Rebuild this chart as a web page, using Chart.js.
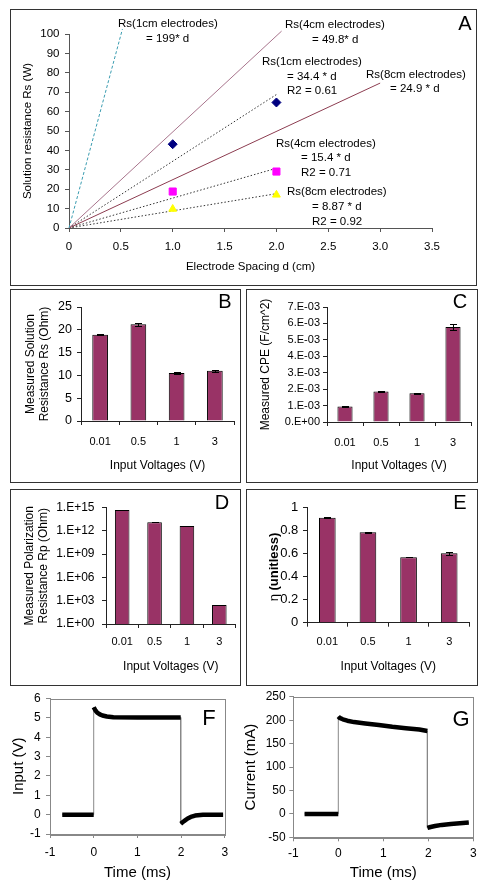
<!DOCTYPE html>
<html>
<head>
<meta charset="utf-8">
<script src="https://cdn.jsdelivr.net/npm/chart.js@4.4.0/dist/chart.umd.min.js"></script>
<style>
  html, body { margin: 0; padding: 0; background: #fff; }
  body { width: 488px; height: 892px; position: relative; overflow: hidden; }
  .box { position: absolute; border: 1px solid #333; box-sizing: border-box; }
  canvas { position: absolute; }
</style>
</head>
<body>
<div class="box" style="left:10px;top:9px;width:467px;height:277px"></div>
<div class="box" style="left:10px;top:289px;width:231px;height:194px"></div>
<div class="box" style="left:246px;top:289px;width:232px;height:194px"></div>
<div class="box" style="left:10px;top:489px;width:231px;height:197px"></div>
<div class="box" style="left:246px;top:489px;width:232px;height:197px"></div>

<canvas id="chartA" width="465" height="275" style="left:11px;top:10px"></canvas>
<canvas id="chartB" width="229" height="192" style="left:11px;top:290px"></canvas>
<canvas id="chartC" width="230" height="192" style="left:247px;top:290px"></canvas>
<canvas id="chartD" width="229" height="195" style="left:11px;top:490px"></canvas>
<canvas id="chartE" width="230" height="195" style="left:247px;top:490px"></canvas>
<canvas id="chartF" width="236" height="206" style="left:0px;top:686px"></canvas>
<canvas id="chartG" width="252" height="206" style="left:236px;top:686px"></canvas>

<script>
// ---- A: solution resistance vs electrode spacing ----
const spacing = [1, 2];
const rs1cm = [43.2, 64.7];
const rs4cm = [18.8, 29.1];
const rs8cm = [9.8, 17.1];
// fitted lines through the origin, end points
const fitEndX = [0.515, 2.05, 3.0, 2.0, 2.0, 2.0];
const fitEndY = [102.5, 101.5, 74.7, 68.8, 30.8, 17.7];
const fitNotes = [
  [0.473, 105.0, 'Rs(1cm electrodes)'], [0.743, 97.3, '= 199* d'],
  [2.083, 104.5, 'Rs(4cm electrodes)'], [2.343, 96.8, '= 49.8* d'],
  [1.861, 85.7, 'Rs(1cm electrodes)'], [2.102, 77.7, '= 34.4 * d'], [2.102, 70.5, 'R2 = 0.61'],
  [2.864, 78.8, 'Rs(8cm electrodes)'], [3.095, 71.6, '= 24.9 * d'],
  [1.996, 43.3, 'Rs(4cm electrodes)'], [2.237, 36.1, '= 15.4 * d'], [2.237, 28.4, 'R2 = 0.71'],
  [2.102, 18.7, 'Rs(8cm electrodes)'], [2.343, 10.9, '= 8.87 * d'], [2.343, 3.2, 'R2 = 0.92'],
];

// ---- B-E: measured parameters vs input voltage ----
const voltages = ['0.01', '0.5', '1', '3'];
const rsMeasured = [18.9, 21.2, 10.5, 11.0];
const rsErr = [0.1, 0.35, 0.3, 0.25];
const cpe = [0.94e-3, 1.85e-3, 1.75e-3, 5.79e-3];
const cpeErr = [0.02e-3, 0.02e-3, 0.04e-3, 0.2e-3];
const cpeTickLabels = ['0.E+00', '1.E-03', '2.E-03', '3.E-03', '4.E-03', '5.E-03', '6.E-03', '7.E-03'];
const rp = [4.9e14, 1.3e13, 4e12, 280];
const rpErr = [5e13, 1e12, 3e11, 0];
const rpTicks = [1, 1e3, 1e6, 1e9, 1e12, 1e15];
const rpTickLabels = ['1.E+00', '1.E+03', '1.E+06', '1.E+09', '1.E+12', '1.E+15'];
const eta = [0.913, 0.786, 0.569, 0.603];
const etaErr = [0.002, 0.005, 0.002, 0.01];
const etaTickLabels = ['0', '0.2', '0.4', '0.6', '0.8', '1'];

// ---- F, G: input pulse and current response ----
const fTime  = [-0.72, 0, 0, 0.04, 0.08, 0.14, 0.2, 0.3, 0.45, 1.0, 1.5, 1.99, 1.99, 2.04, 2.09, 2.15, 2.22, 2.32, 2.5, 2.96];
const fInput = [0, 0, 5.55, 5.38, 5.27, 5.18, 5.12, 5.07, 5.03, 5.02, 5.02, 5.02, -0.47, -0.38, -0.3, -0.2, -0.12, -0.05, -0.01, 0];
const gTime    = [-0.75, 0, 0, 0.03, 0.1, 0.2, 0.35, 0.6, 0.9, 1.2, 1.5, 1.8, 1.98, 1.98, 2.05, 2.15, 2.3, 2.5, 2.7, 2.9];
const gCurrent = [0, 0, 208, 205, 202, 199, 196, 193, 190, 186, 183, 180, 177, -30, -28, -26, -23.5, -21.5, -20, -18.5];

Chart.defaults.font.family = "'Liberation Sans', Arial, sans-serif";
Chart.defaults.color = '#000';
Chart.defaults.animation = false;

const panelExtras = {
  id: 'panelExtras',
  afterDatasetsDraw(chart) {
    const ctx = chart.ctx;
    chart.data.datasets.forEach((ds, i) => {
      if (!ds.errors) return;
      const yScale = chart.scales.y;
      ctx.save();
      ctx.strokeStyle = '#000';
      ctx.lineWidth = 1;
      chart.getDatasetMeta(i).data.forEach((bar, j) => {
        const err = ds.errors[j];
        if (!err) return;
        const top = Math.round(yScale.getPixelForValue(ds.data[j] + err)) + 0.5;
        const bot = Math.round(yScale.getPixelForValue(ds.data[j] - err)) + 0.5;
        const x = Math.round(bar.x) + 0.5;
        ctx.beginPath();
        ctx.moveTo(x, top); ctx.lineTo(x, bot);
        ctx.moveTo(x - 3.5, top); ctx.lineTo(x + 3.5, top);
        ctx.moveTo(x - 3.5, bot); ctx.lineTo(x + 3.5, bot);
        ctx.stroke();
      });
      ctx.restore();
    });
  },
  afterDraw(chart, args, opts) {
    const ctx = chart.ctx;
    const area = chart.chartArea;
    ctx.save();
    if (opts.frame) {
      ctx.strokeStyle = '#888';
      ctx.lineWidth = 1;
      ctx.strokeRect(Math.round(area.left) + 0.5, Math.round(area.top) + 0.5,
        Math.round(area.right - area.left), Math.round(area.bottom - area.top));
    }
    if (opts.notes) {
      ctx.font = "11.5px 'Liberation Sans', Arial, sans-serif";
      ctx.fillStyle = '#000';
      ctx.textAlign = 'left';
      ctx.textBaseline = 'middle';
      fitNotes.forEach(([x, y, t]) => {
        ctx.fillText(t, chart.scales.x.getPixelForValue(x), chart.scales.y.getPixelForValue(y));
      });
    }
    if (opts.eta) {
      ctx.translate(opts.eta[0], opts.eta[1]);
      ctx.rotate(-Math.PI / 2);
      ctx.fillStyle = '#000';
      ctx.textBaseline = 'middle';
      ctx.textAlign = 'left';
      const normal = "13px 'Liberation Sans', Arial, sans-serif";
      const bold = "bold 13px 'Liberation Sans', Arial, sans-serif";
      ctx.font = normal;
      const w1 = ctx.measureText('η ').width;
      ctx.font = bold;
      const w2 = ctx.measureText('(unitless)').width;
      const start = -(w1 + w2) / 2;
      ctx.font = normal;
      ctx.fillText('η ', start, 0);
      ctx.font = bold;
      ctx.fillText('(unitless)', start + w1, 0);
      ctx.setTransform(1, 0, 0, 1, 0, 0);
    }
    if (opts.letter) {
      ctx.font = (opts.letterSize || 20) + "px 'Liberation Sans', Arial, sans-serif";
      ctx.fillStyle = '#000';
      ctx.textAlign = 'center';
      ctx.textBaseline = 'middle';
      ctx.fillText(opts.letter, opts.lx, opts.ly);
    }
    ctx.restore();
  }
};
Chart.register(panelExtras);

function axis(color, fontSize, pad) {
  return {
    grid: { display: true, drawOnChartArea: false, drawTicks: true, tickLength: 4, color },
    border: { display: true, color },
    ticks: { color: '#000', font: { size: fontSize }, padding: pad, autoSkip: false, maxRotation: 0 },
  };
}

function fixSize(scale, w, h) {
  const s = scale;
  s.afterFit = a => { if (w != null) a.width = w; if (h != null) a.height = h; };
  return s;
}

// ---- A ----
const xA = fixSize(axis('#555', 11.5, 8), null, 57);
xA.type = 'linear'; xA.min = 0; xA.max = 3.5; xA.ticks.stepSize = 0.5;
xA.title = { display: true, text: 'Electrode Spacing d (cm)', font: { size: 11.5 }, padding: { top: 0, bottom: 11 } };
const yA = fixSize(axis('#555', 11.5, 5.5), 58, null);
yA.min = 0; yA.max = 100; yA.ticks.stepSize = 10;
yA.title = { display: true, text: 'Solution resistance Rs (W)', font: { size: 11.5 }, padding: { top: 10.4, bottom: 0 } };

const fitStyles = [
  { color: '#3a9cb0', dash: [3, 2] },
  { color: '#a8748c', dash: [] },
  { color: '#8c3c50', dash: [] },
  { color: '#333', dash: [1.5, 2] },
  { color: '#333', dash: [1.5, 2] },
  { color: '#333', dash: [1.5, 2] },
];

new Chart(document.getElementById('chartA'), {
  type: 'scatter',
  data: {
    datasets: [
      { data: spacing.map((x, i) => ({ x, y: rs1cm[i] })), pointStyle: 'rectRot', pointRadius: 4.5,
        backgroundColor: '#000080', borderColor: '#000080' },
      { data: spacing.map((x, i) => ({ x, y: rs4cm[i] })), pointStyle: 'rect', pointRadius: 5,
        backgroundColor: '#ff00ff', borderColor: '#ff00ff' },
      { data: spacing.map((x, i) => ({ x, y: rs8cm[i] })), pointStyle: 'triangle', pointRadius: 4.5,
        backgroundColor: '#ffff00', borderColor: '#ffff00' },
    ].concat(fitEndX.map((ex, i) => ({
      data: [{ x: 0, y: 0 }, { x: ex, y: fitEndY[i] }],
      showLine: true, pointRadius: 0, borderWidth: 1, clip: false,
      borderColor: fitStyles[i].color, borderDash: fitStyles[i].dash,
    }))),
  },
  options: {
    responsive: false,
    layout: { padding: { left: 0, top: 24, right: 44, bottom: 0 } },
    plugins: { legend: { display: false }, tooltip: { enabled: false },
      panelExtras: { notes: true, letter: 'A', lx: 454, ly: 14 } },
    scales: { x: xA, y: yA },
  },
});

// ---- bar panels ----
function barChart(id, o) {
  const x = fixSize(axis('#222', 11, o.xPad), null, o.xHeight);
  x.title = { display: true, text: 'Input Voltages (V)', font: { size: 12 }, padding: { top: 0, bottom: o.titleBottom } };
  const y = fixSize(axis('#222', o.yFont, o.yPad), o.yWidth, null);
  Object.assign(y, o.y);
  if (o.yTitle) y.title = { display: true, text: o.yTitle, font: { size: 12 }, padding: { top: o.yTitlePad, bottom: 0 } };
  return new Chart(document.getElementById(id), {
    type: 'bar',
    data: {
      labels: voltages,
      datasets: [{ data: o.values, errors: o.errors, backgroundColor: '#993366', borderColor: '#000',
        borderWidth: 1, barPercentage: 1, categoryPercentage: o.cat }],
    },
    options: {
      responsive: false,
      layout: { padding: { left: 0, top: o.top, right: o.right, bottom: 0 } },
      plugins: { legend: { display: false }, tooltip: { enabled: false },
        panelExtras: Object.assign({ letter: o.letter, lx: o.lx, ly: o.ly }, o.extra || {}) },
      scales: { x, y },
    },
  });
}

barChart('chartB', {
  values: rsMeasured, errors: rsErr, cat: 0.41, letter: 'B', lx: 214, ly: 12,
  top: 17, right: 6, xHeight: 61, xPad: 10.4, titleBottom: 8.8,
  yWidth: 70, yFont: 12.5, yPad: 5, yTitle: ['Measured Solution', 'Resistance Rs (Ohm)'], yTitlePad: 12,
  y: { min: 0, max: 25, ticks: Object.assign(axis('#222', 12.5, 5).ticks, { stepSize: 5 }) },
});

barChart('chartC', {
  values: cpe, errors: cpeErr, cat: 0.42, letter: 'C', lx: 213, ly: 12,
  top: 17, right: 6, xHeight: 60, xPad: 10.4, titleBottom: 8.8,
  yWidth: 80, yFont: 11, yPad: 3, yTitle: 'Measured CPE (F/cm^2)', yTitlePad: 11,
  y: { min: 0, max: 7e-3, ticks: Object.assign(axis('#222', 11, 3).ticks,
    { stepSize: 1e-3, callback: (v, i) => cpeTickLabels[i] }) },
});

barChart('chartD', {
  values: rp, errors: rpErr, cat: 0.45, letter: 'D', lx: 211, ly: 13,
  top: 17.5, right: 4.5, xHeight: 61, xPad: 7.4, titleBottom: 10.8,
  yWidth: 95, yFont: 12, yPad: 7.5, yTitle: ['Measured Polarization', 'Resistance Rp (Ohm)'], yTitlePad: 11,
  y: { type: 'logarithmic', min: 1, max: 1e15,
    afterBuildTicks: s => { s.ticks = rpTicks.map(v => ({ value: v })); },
    ticks: Object.assign(axis('#222', 12, 7.5).ticks, { callback: (v, i) => rpTickLabels[i] }) },
});

barChart('chartE', {
  values: eta, errors: etaErr, cat: 0.41, letter: 'E', lx: 213, ly: 13,
  top: 17.7, right: 7.5, xHeight: 62.3, xPad: 8.7, titleBottom: 10.8,
  yWidth: 60, yFont: 13, yPad: 4.7,
  y: { min: 0, max: 1, ticks: Object.assign(axis('#222', 13, 4.7).ticks,
    { stepSize: 0.2, callback: (v, i) => etaTickLabels[i] }) },
  extra: { eta: [27, 77] },
});

// ---- trace panels ----
function bandPoints(xs, ys) {
  const pts = [];
  xs.forEach((x, i) => {
    if (i > 0 && x === xs[i - 1]) pts.push({ x, y: null });
    pts.push({ x, y: ys[i] });
  });
  return pts;
}

function traceChart(id, o) {
  const x = fixSize(axis('#888', 12, o.xPad), null, o.xHeight);
  x.type = 'linear'; x.min = -1; x.max = 3; x.ticks.stepSize = 1;
  x.title = { display: true, text: 'Time (ms)', font: { size: 15 }, padding: { top: 0, bottom: o.titleBottom } };
  const y = fixSize(axis('#888', 12, o.yPad), o.yWidth, null);
  y.min = o.yMin; y.max = o.yMax; y.ticks.stepSize = o.yStep;
  y.title = { display: true, text: o.yTitle, font: { size: 15 }, padding: { top: o.yTitlePad, bottom: 0 } };
  return new Chart(document.getElementById(id), {
    type: 'scatter',
    data: {
      datasets: [
        { data: bandPoints(o.xs, o.ys), showLine: true, spanGaps: false, pointRadius: 0,
          borderColor: '#000', borderWidth: 4.5, borderJoinStyle: 'round' },
        { data: o.xs.map((v, i) => ({ x: v, y: o.ys[i] })), showLine: true, pointRadius: 0,
          borderColor: '#888', borderWidth: 1 },
      ],
    },
    options: {
      responsive: false,
      layout: { padding: { left: 0, top: 10, right: o.right, bottom: 0 } },
      plugins: { legend: { display: false }, tooltip: { enabled: false },
        panelExtras: { frame: true, letter: o.letter, letterSize: 22, lx: o.lx, ly: o.ly } },
      scales: { x, y },
    },
  });
}

traceChart('chartF', {
  xs: fTime, ys: fInput, yMin: -1, yMax: 6, yStep: 1, yTitle: 'Input (V)',
  right: 6.7, xHeight: 58, xPad: 7.8, titleBottom: 10,
  yWidth: 50, yPad: 5.3, yTitlePad: 9.5, letter: 'F', lx: 209, ly: 33,
});

traceChart('chartG', {
  xs: gTime, ys: gCurrent, yMin: -50, yMax: 250, yStep: 50, yTitle: 'Current (mA)',
  right: 14.7, xHeight: 54.7, xPad: 4.8, titleBottom: 9.7,
  yWidth: 57.3, yPad: 3.6, yTitlePad: 6, letter: 'G', lx: 225, ly: 34,
});
</script>
</body>
</html>
